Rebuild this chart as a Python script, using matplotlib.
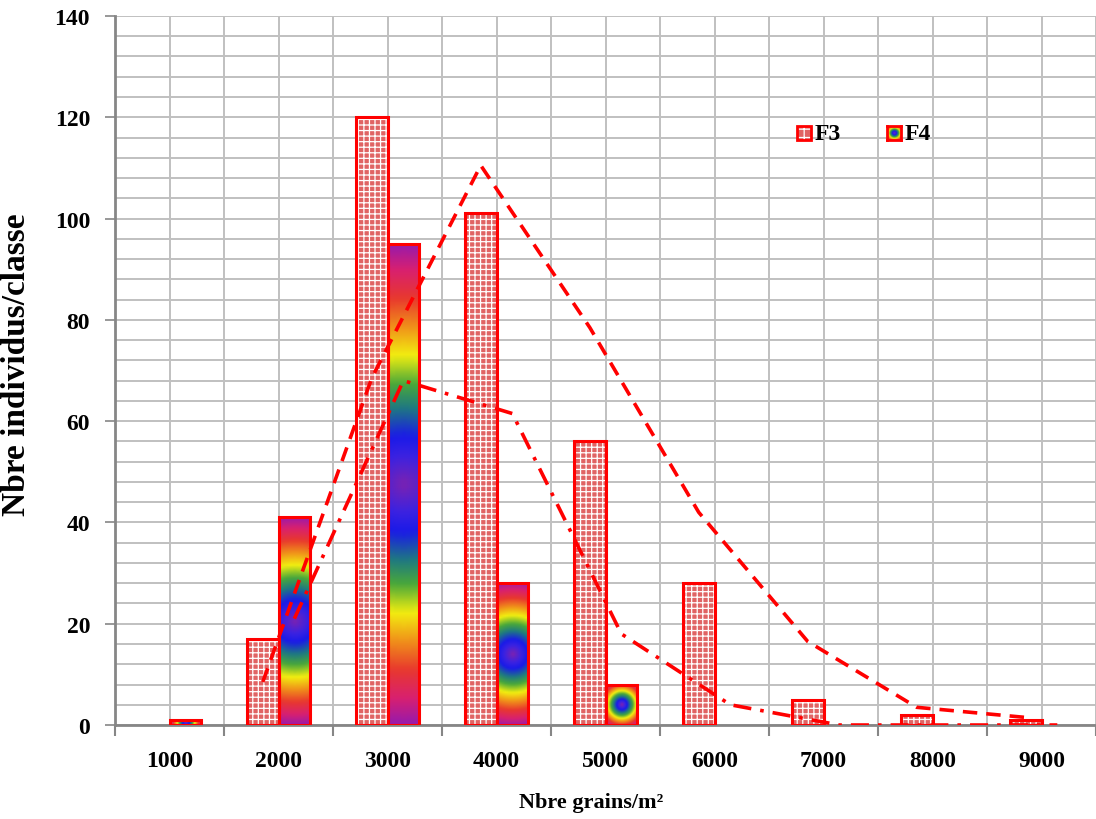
import numpy as np
import matplotlib.pyplot as plt
from matplotlib.colors import LinearSegmentedColormap
from matplotlib.patches import Rectangle

# Grain density classes and counts per class
classes = ["1000", "2000", "3000", "4000", "5000", "6000", "7000", "8000", "9000"]
f3 = [0, 17, 120, 101, 56, 28, 5, 2, 1]
f4 = [1, 41, 95, 28, 8, 0, 0, 0, 0]

RED = "#ff0000"
GRID = "#c0c0c0"
AXIS = "#868686"
F3_FACE = "#e06464"

plt.rcParams["font.family"] = ["Liberation Serif", "DejaVu Serif"]
plt.rcParams["font.weight"] = "bold"
plt.rcParams["hatch.linewidth"] = 0.9

# rainbow used for the F4 bars (centre -> edge)
rainbow = LinearSegmentedColormap.from_list("rainbow_path", [
    (0.00, "#7a22b2"), (0.12, "#3a22e2"), (0.20, "#1a1ae8"),
    (0.32, "#1f7a80"), (0.42, "#4aa83a"), (0.54, "#f2ee10"),
    (0.66, "#f0901a"), (0.78, "#e8382e"), (0.90, "#d82070"),
    (1.00, "#9c1aa8")])


def radial_fill(w_px, h_px, n=80):
    """Radial gradient from the centre of a w x h pixel box to its corners."""
    xs = np.linspace(-0.5, 0.5, n) * w_px
    ys = np.linspace(-0.5, 0.5, n) * h_px
    X, Y = np.meshgrid(xs, ys)
    r = np.sqrt(X**2 + Y**2) / np.sqrt((w_px / 2) ** 2 + (h_px / 2) ** 2)
    return rainbow(np.clip(r, 0, 1))


def moving_average(values, period=2):
    v = np.asarray(values, dtype=float)
    return np.convolve(v, np.ones(period) / period, mode="valid")


fig = plt.figure(figsize=(10.96, 8.20), dpi=100)
ax = fig.add_axes([0.105, 0.1146, 0.895, 0.8647])

x = np.arange(len(classes))
bw = 0.29
off = bw / 2

ax.set_xlim(-0.5, len(classes) - 0.5)
ax.set_ylim(0, 140)

# F3: hatched bars
f3_pos = x - off
for xi, v in zip(f3_pos, f3):
    if v <= 0:
        continue
    ax.bar(xi, v, bw, color=F3_FACE, edgecolor="white", hatch="+++",
           linewidth=0, zorder=3)
    ax.bar(xi, v, bw, color="none", edgecolor=RED, linewidth=2.2, zorder=4)

# F4: rainbow filled bars
fig.canvas.draw()
sx = ax.transData.transform([(0, 0), (1, 1)])
px_per_x = sx[1, 0] - sx[0, 0]
px_per_y = sx[1, 1] - sx[0, 1]
f4_pos = x + off
for xi, v in zip(f4_pos, f4):
    if v <= 0:
        continue
    img = radial_fill(bw * px_per_x, v * px_per_y)
    ax.imshow(img, extent=(xi - bw / 2, xi + bw / 2, 0, v), aspect="auto",
              interpolation="bilinear", zorder=3)
    ax.bar(xi, v, bw, color="none", edgecolor=RED, linewidth=2.2, zorder=4)

ax.set_xlim(-0.5, len(classes) - 0.5)
ax.set_ylim(0, 140)

# Moving-average (period 2) trend lines
ma3 = moving_average(f3)
ma4 = moving_average(f4)
ax.plot(f3_pos[1:], ma3, color=RED, linewidth=2.6, dashes=(4, 2.5), zorder=5)
ax.plot(f4_pos[1:], ma4, color=RED, linewidth=2.6, dashes=(5, 2.5, 1, 2.5),
        zorder=5)

# axes, ticks and grid
ax.set_xticks(x)
ax.set_xticks(np.arange(-0.5, len(classes), 1), minor=True)
ax.set_xticklabels(classes, fontsize=17, fontweight="bold")
ax.set_yticks(np.arange(0, 141, 20))
ax.set_yticks(np.arange(0, 141, 4), minor=True)
ax.tick_params(axis="y", labelsize=17, length=7, width=1.2, color=AXIS,
               pad=11)
ax.tick_params(axis="y", which="minor", length=0)
ax.tick_params(axis="x", which="major", length=0, pad=18)
ax.tick_params(axis="x", which="minor", length=8, width=1.5, color=AXIS)
for lbl in ax.get_yticklabels():
    lbl.set_fontweight("bold")

ax.grid(True, which="both", color=GRID, linewidth=1.4, zorder=0)
ax.set_axisbelow(True)
for side in ("top", "right"):
    ax.spines[side].set_visible(False)
for side in ("left", "bottom"):
    ax.spines[side].set_color(AXIS)
    ax.spines[side].set_linewidth(2)

ax.set_xlabel("Nbre grains/m²", fontsize=16, fontweight="bold")
ax.xaxis.set_label_coords(0.485, -0.095)
ax.set_ylabel("Nbre individus/classe", fontsize=24, fontweight="bold")
ax.yaxis.set_label_coords(-0.085, 0.51)

# legend drawn by hand (gradient swatch for F4)
sw, sh = 0.0143, 0.0197
ly = 0.825
ax.add_patch(Rectangle((0.695, ly), sw, sh, transform=ax.transAxes,
                       facecolor=F3_FACE, edgecolor="white", hatch="++",
                       linewidth=0, zorder=6))
ax.add_patch(Rectangle((0.695, ly), sw, sh, transform=ax.transAxes,
                       facecolor="none", edgecolor=RED, linewidth=2, zorder=7))
ax.text(0.713, ly + sh / 2, "F3", transform=ax.transAxes, fontsize=17,
        fontweight="bold", va="center")
lax = ax.inset_axes([0.787, ly, sw, sh])
lax.imshow(radial_fill(14, 14), extent=(0, 1, 0, 1), aspect="auto",
           interpolation="bilinear")
lax.set_xticks([])
lax.set_yticks([])
for s in lax.spines.values():
    s.set_color(RED)
    s.set_linewidth(2)
ax.text(0.805, ly + sh / 2, "F4", transform=ax.transAxes, fontsize=17,
        fontweight="bold", va="center")

fig.savefig("out.png", dpi=100)
